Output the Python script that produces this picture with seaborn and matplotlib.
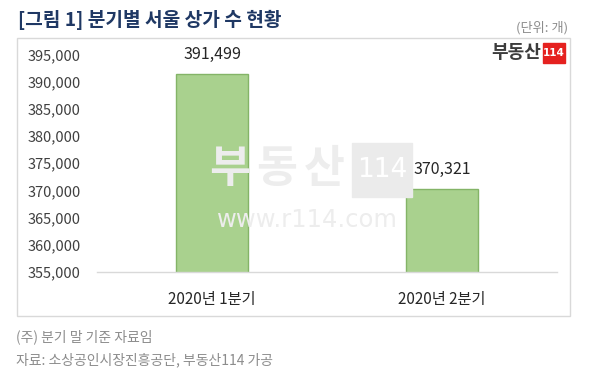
import matplotlib
matplotlib.use("Agg")
import matplotlib.pyplot as plt
import seaborn as sns
import pandas as pd
from matplotlib.patches import Rectangle
from matplotlib.ticker import FuncFormatter

categories = ["2020년 1분기", "2020년 2분기"]
values = [391499, 370321]
y_ticks = [355000, 360000, 365000, 370000, 375000, 380000, 385000, 390000, 395000]

title = "[그림 1] 분기별 서울 상가 수 현황"
unit = "(단위: 개)"
note1 = "(주) 분기 말 기준 자료임"
note2 = "자료: 소상공인시장진흥공단, 부동산114 가공"

sns.set_theme(style="white")
plt.rcParams["font.family"] = ["Noto Sans CJK KR", "DejaVu Sans"]

W, H = 600, 368
fig = plt.figure(figsize=(6, 3.68), dpi=100)

def fx(px):
    return px / W

def fy(py):
    return 1 - py / H

# frame
fig.patches.append(Rectangle((fx(16.5), fy(315.5)), fx(570) - fx(16.5), fy(37.5) - fy(315.5),
                             transform=fig.transFigure, fill=False, edgecolor="#d9d9d9", lw=1.0))

# watermark (behind the axes)
for ch, cx in zip("부동산", [230, 277, 324]):
    fig.text(fx(cx), fy(169), ch, fontsize=32, fontweight="bold", color="#ededed",
             ha="center", va="center", zorder=0)
fig.patches.append(Rectangle((fx(352), fy(197)), fx(412) - fx(352), fy(143) - fy(197),
                             transform=fig.transFigure, color="#ebebeb", zorder=0))
fig.text(fx(382), fy(170), "114", fontsize=19, color="white", ha="center", va="center",
         zorder=0, family="DejaVu Sans")
fig.text(fx(307), fy(220), "www.r114.com", fontsize=17.5, color="#ededed", ha="center",
         va="center", zorder=0, family="DejaVu Sans")

ax = fig.add_axes([fx(97.3), fy(271.5), fx(556.7) - fx(97.3), fy(55) - fy(271.5)])
ax.patch.set_alpha(0)

df = pd.DataFrame({"cat": categories, "val": values})
sns.barplot(data=df, x="cat", y="val", ax=ax, color="#a9d18e", width=0.313,
            edgecolor="#84b467", linewidth=1.0, saturation=1)

ax.set_ylim(355000, 395000)
ax.set_xlim(-0.5, 1.5)
ax.set_yticks(y_ticks)
ax.yaxis.set_major_formatter(FuncFormatter(lambda v, p: f"{int(v):,}"))
ax.tick_params(axis="y", length=0, pad=12, labelsize=10.5, labelcolor="#404040")
ax.tick_params(axis="x", length=0, pad=14, labelsize=11, labelcolor="#262626")
ax.set_xlabel("")
ax.set_ylabel("")
for s in ["left", "right", "top"]:
    ax.spines[s].set_visible(False)
ax.spines["bottom"].set_color("#d9d9d9")
ax.spines["bottom"].set_linewidth(1.0)

for i, v in enumerate(values):
    ax.annotate(f"{v:,}", (i, v), xytext=(0, 8), textcoords="offset points",
                ha="center", va="bottom", fontsize=11.5, color="#262626")

# title & annotations
fig.text(fx(18), fy(20), title, fontsize=13.8, fontweight="bold", color="#1f3864",
         ha="left", va="center")
fig.text(fx(568), fy(28), unit, fontsize=9.5, color="#8c8c8c", ha="right", va="center")

# logo
fig.text(fx(541), fy(53), "부동산", fontsize=13, fontweight="bold", color="#3c3c3c",
         ha="right", va="center")
fig.patches.append(Rectangle((fx(543), fy(63)), fx(565) - fx(543), fy(43) - fy(63),
                             transform=fig.transFigure, color="#e5211f"))
fig.text(fx(554), fy(53), "114", fontsize=7.5, fontweight="bold", color="white",
         ha="center", va="center", family="DejaVu Sans")

fig.text(fx(16.5), fy(336.5), note1, fontsize=10, color="#8c8c8c", ha="left", va="center")
fig.text(fx(16.5), fy(359.5), note2, fontsize=10, color="#8c8c8c", ha="left", va="center")

fig.savefig("out.png", dpi=100, facecolor="white")
